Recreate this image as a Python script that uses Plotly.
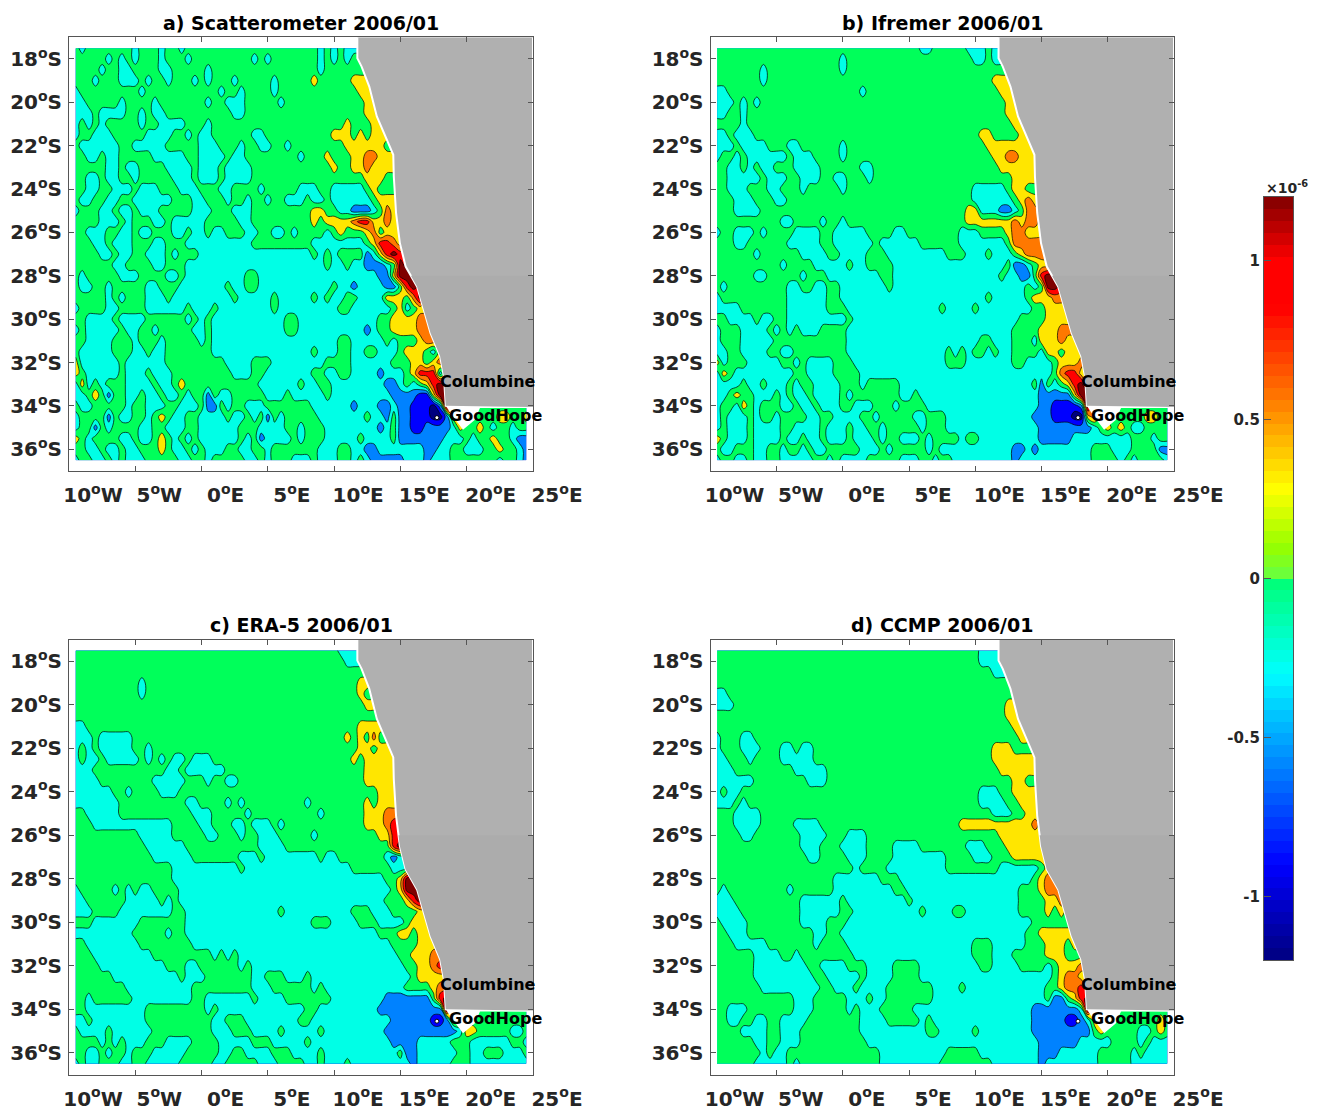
import numpy as np
import plotly.graph_objects as go

LON = [-9.5 + 0.5 * i for i in range(69)]
LAT = [-17.5 - 0.5 * i for i in range(39)]

# class letters: value of each class
CLASS_VALUE = {"D": -1.2, "B": -0.9, "b": -0.6, "c": -0.3, ".": 0.0, "y": 0.3, "o": 0.6, "r": 0.9, "R": 1.2}

# each panel: open-ocean part (columns from 9.5W) and near-coast part (columns from 10.5E)
SCAT_OPEN = [
 ".c.......c...c..c....................c.c",
 ".....c.c.c...c...c.........c.c.......c.c",
 "....c..cc....cc.....c................c..",
 "...c...ccc.c..c...c.c...c.....c.....y...",
 "c.........c...........c..c....c.........",
 "cc.....c....c.......c..ccc.....c........",
 "ccc.cccc..c.cc..........cc..............",
 "c.c.c.....c..cccc...c...................",
 "c..ccc.....cccc..c.cc......cc..........y",
 ".cccccc..ccccc.....ccc...c..cc..c.......",
 "..cc.cc.....ccccc..cccc.cc........c...y.",
 ".....cc.cc....cccc.ccc.cccc............y",
 "..cc.cc..c.....ccc.ccc.cccc.............",
 "..cc..ccc.ccc...ccc...cc....c.....ccc..c",
 ".cc..cc..cccccc...cc...c..c..c..ccc.cc.c",
 "c...cc.cc.ccc.....ccc...ccc.........yy..",
 "....ccc.c...cc.ccccc.....cc.........y.yy",
 "..ccc..cc.cc...cc.cc.cc...cc..cc.c....c.",
 "...cc.ccc...cc...cccccccccc.........cccc",
 "....cc.cc..ccc.c...ccccccccccccccccc.c.c",
 "......cc....cc...ccccccccccccccccccccc.c",
 ".c.....ccc....cc.ccccccccc..cccccccccccc",
 ".cc..c.....cc...ccccccc.cc..ccccccccccc.",
 ".....c.c...ccc.ccccccccc.ccccc.ccccc.c.c",
 "c....cc....cccccc.ccc.cccccccc.ccccccccc",
 "..cccc.cccc......c.c.ccccccccccc..cccccc",
 "c.ccccc.cc..c.....cc.ccccccccccc..cccccc",
 "..cccc...c...c.....c.ccccccccccccccccccc",
 ".ccccc...cc.cc.......ccccccccccccccc.ccc",
 "ycccccc.cccccc.........cccc...cccccccc..",
 "y.ccccc.ccc.ccc.........ccc..ccccccc..cc",
 "cyc.c...cccc.cc.y...........cccccc.cc..c",
 "cc.y.b..cc.cc.cc.c..b.cc.....ccc.ccccc.c",
 ".cc.....c..ccc..ccc.bb.c..ccc.......cccc",
 "c....b.cc..c.y.cc..cccc.cc.c.b.c.....ccc",
 "c..b.c....cc..ccc..cccccc...cccc..c...cc",
 "y.c....cc.cc.y.c.c.cccccc.c.bcccc.c...cc",
 "..cc.cc.cc...y.cc.c.ccc..cc..c.......ccc",
 "c..cc.c.ccc.....cc..c.....cc.c...ccc.ccc",
]
SCAT_COAST = [
 ".cc", ".c.", "...", "..yy", "...yy", "....yy", "....yy.", ".y...yy", "yy.y.yy", ".yyyyyy.",
 "..yyooyy", "..yyoyyy", "....yyy.", "cccc.y..", "ccccc.yyy", "ccbbbc.oy", "yyorryyoy", "y...yo.yy",
 "cccc.yrroyy", "....bcyrRr", "c.ccbbbc.Rr", "ccccccbbyRRr", "ccbccccbb.rRr", "c..ccccyyy.oRy",
 "..cccccc.yc.yy", "cccccc..yyyyoo", "ccccbc..yyyyoo", "..ccccc.c...yooy", "..cc..ccc.yyy.cyo",
 "..cccccc...yy.yoo", "..ccccbccc.yrrrcy", "cccccccbbc.c.yrRR", "ccccccccbbbbBByRR.",
 "ccbcccbbcbbBBBDbRR.",
 "cccc.ccb.bbBBBDDbyo.....yy..yo", "ccccccbc.bbBBbbbbcy..y.c..c..oo", "ccc.cccc.bbbbbbbccc.c..y..cbbc",
 "..ccbbcccccccbbcc..ccc..y..cbb", "..c.cbbbbbcccbccc.......c..cbb",
]

IFR_OPEN = [
 "...............................cc.....c",
 "...................c...................c",
 ".......c...........c....................",
 ".......c................................",
 "cc....................c.................",
 "ccc.c.c.................................",
 "cc..c...................................",
 "....c...................................",
 "cc.ccc..................................",
 "ccc.cccc...cc......c....................",
 "c..c.cccccc.ccc....c....................",
 "..cc.c.cc...cccc......cc................",
 "..ccccc.ccc..ccc..cc...c................",
 "..ccc...cc...c.....c...................c",
 "...ccc...cc............................c",
 "...cccc...............................yy",
 "..........cc....c..c..................yy",
 "c..ccc.c....cccc..ccccc....cc........ccc",
 "...cc......ccccc..cccccc.cccccc......ccc",
 "......c......cccc..cccc...ccccccccc...cc",
 "..........c....ccccc.cc....ccccccccccccc",
 "......cc.....c...cccccccc..ccccccccccccc",
 ".c.........cc..cc..ccccccc.ccccccccccccc",
 "c..........cccccc..ccccccccccccccccccccc",
 "cccc.......cccccc...cccccccccccccc.cccc.",
 "..cccc.cc..ccccccccc.ccccccccccccccccccc",
 "c...cccc.c.c.ccc....cccccccccccccccccccc",
 "c...ccccc...........cccccccccccccccccccc",
 "cc..cccc..cc........ccccccccccccccc.c.c.",
 "yc...ccccc..c.cccc...cccccccccccccc...cc",
 "cy.ccccccccc..cccc....cccccccccccccccccc",
 "cccc.cc.ccc.c..cccc...c.....cccccccccccc",
 "cc.y..ccc.c.cc.cccc.c.......cc.ccccccccc",
 "c..cy.c...cc.cc.ccc..ccc...c....cccccccc",
 "c.ccc.c..c....cc..cccc..c.....cc...ccccc",
 "c.ccc.cccc..cccc.ccc.cc..c.....c...ccccc",
 "y.ccc.cccc.cc.cc.ccc.ccc.c..ccc.c....c..",
 ".cc...cc..c..c.cc.....ccc.c.....c.cccccc",
 "c..cc.cc..ccccc..c.cccc.....ccc..c..cccc",
]
IFR_COAST = [
 "c.cc", "c.cc", "...", "..yy", "...yy", "....yy", "....yy", ".....yy", "yy....yy", ".yyyyyyy",
 "..yyooyyy", "...yyyyyy", ".....yyy", "cccc.yy..", "ccccc.yoy", "cccbbc.ooy", "yyyyyoyooy", "....yooyyy",
 "cccc.oooooyy", "c.ccc.yooooyy", "cccc.bbc.yyy", "ccc.ccbb.rRR", "ccccccc.c.RRro", "c.ccccc.yyyoo",
 "cccccccc..yyyy", "cccccc....yyyy", "ccccc....yyyoo", "..ccc...cyyyoy", ".c.cc....cyy.yyy",
 "ccccc..cccc.yyyoy", "ccccccccccc.orry", "cccccccc.b.c.yrRy", "cccccccccbbbbbyRR.",
 "cccccccccbbBBBBbR..",
 "ccccccccbbbBBBDDyo.......yy..oy", "cccccccccbbbbbbbbc.y.y.cc....yy", "cccccccccbbbbbccccccccc...c..cc",
 "cccccbbcbcccccccc...ccc....bbc", "cccccbccccccccccc....c.c....cc",
]

ERA_OPEN = [
 "........................................",
 "........................................",
 "........................................",
 "..........c.............................",
 "..........c.............................",
 "........................................",
 "........................................",
 "cc......................................",
 "ccc.ccccc...............................",
 "c.c.ccccc..c............................",
 "c.cc.ccccc.c.c.cc.ccc...................",
 "ccc...........cc.cccccc.................",
 "cccc........ccccc...c..cc...............",
 "cccccc..c....ccc........................",
 "ccccccc..........cc....c.c.........c....",
 "..ccccc...........ccc.....c..........c..",
 "...cccccccccccc....cc...cc.ccc.c........",
 "..........ccccc.....cc...c..ccc.....c...",
 "...........cccccc...........cccc........",
 "............cccccc.......ccc.cccccccc.cc",
 "...............cccccccccc.cccccccccccccc",
 "...............ccccccccccccccccccccccccc",
 "c.....c.c.cc....cccccccccccccccccccccccc",
 "cc......ccccc.c.cccccccccccccccccccccccc",
 "ccc....cccccccc..cccccccccccccc.cccccccc",
 "...ccccccc.......ccccccccccccccccccc...c",
 "ccccccccc.....c..ccccccccccccccccccccccc",
 "..cccccccc........cccccccccccccccccccccc",
 "...ccccccccc.........c.c.cccccccccccccc",
 "....cccccccccc...cc......c.ccccccccccccc",
 "......cccccccccc.ccc.......cc...ccc.cccc",
 "........cccccccccc.........ccc......c.cc",
 "..c......ccccccccc..ccccccc.cccc.......c",
 "..ccccccccc.........c.ccccccccccccc..ccc",
 "cc.cccccccc..........cc...cccccccc..cccc",
 ".cccc.cccccc.........ccc...cccc.ccccc.cc",
 "....c.c.ccc...cccc....ccccc...ccccc.cccc",
 "..cc.c..c...ccccc.....cc..cccc...cccc.cc",
 "c.cc...cc..ccccc.....cc.....ccc....cc.cc",
]
ERA_COAST = [
 "ccc", ".cc", "...", "...y", "...y.", "....y", "......", "...yyy", ".y.y.o.", "...yy.y",
 "..y.yyyyy", "....yyy", "....yyyy", "......yy", "....y.yyy", "....yyyoo", "....yyyor", "......yyrr",
 "........rR", ".......cbc", "cc......cc", "ccccccc..yRR", "cccccccc.yRRr", "ccccccc...yrR",
 "cc...ccc....yy", "ccc...cccc.yyy", "cccccc...yy.yy", "cccccccc....yyy", "ccccccccc..yyyo",
 "cccccccccc..yyor", "ccccccccccc.yyyy", "cccccccccc....yo", "cccccccbbbbbbb.rR.",
 "ccccccbbbbbbbbbbR..",
 "ccccccccbbbbbbBBbyy..........", "cccccccbbbbbbbbbbbcyy.....cc...", "ccccccccbbbbccccc...cccccc..c",
 "ccccccccc.bbcccccc..cc...ccc...c", "c.cccccccccbccccc...cccccccccc..",
]

CCMP_OPEN = [
 "........................................",
 "........................................",
 "........................................",
 "........................................",
 "cc......................................",
 "ccc.....................................",
 "........................................",
 "........................................",
 "c...cc..................................",
 "c...ccc...cc.cc.........................",
 "cc...c....ccccc.........................",
 "ccc.........ccccc.......................",
 "cccccc........ccc.......................",
 "c.cc....................................",
 "ccc.c...................................",
 "...cccc.................................",
 "...cccc.....cccc.....................yyy",
 "....cc.......cccc...ccc.................",
 ".............ccc...cccc....cccc.......cc",
 "..............cc....ccc....cccccccc....c",
 ".....................c....ccccccccc.....",
 "..................ccccccc...cccccccccccc",
 ".c.........c......ccccccccc..ccccccccccc",
 "ccc..........cccccc.ccccccccc.cccccccccc",
 "cccc.........cccccc..cccccccccc.cccc..cc",
 ".cccc........cccc...cccccccccccccccccccc",
 "..ccc..........cc..ccccccccccccccccccccc",
 "...ccccc.......c....ccccccccccccccccccc.",
 "......cccc..c........cccccccccccccccccc.",
 "......cccccccc..cccc...cccc....ccccccccc",
 "......ccccccccc..ccccc.cccc....ccccccccc",
 ".......ccccccccc..ccc.cccc.......cccc.cc",
 "............ccc.....ccc.cc.......cccccc",
 "..ccc.......ccc.....c.ccc.....cccccccccc",
 "..cc..cc..cccc........cccc.....c.ccccccc",
 "....cccc..ccc.........cccccccccc..ccccc.",
 "......cc..ccc..........cccccccccccccccc",
 ".......c.cc..............cccccccccc.....",
 "......ccccc.c............ccccccccc......",
]
CCMP_COAST = [
 "ccc", "cccc", "..cc", "....", "....", "....y", "....yy", ".....y", "......y", "..yyy...",
 "..yyyyy", "...yyyy", ".....yy..c", "ccc..yy", "cccc..yy", "..ccc..yy", "yyyyyyyyoy", "...yyyyyyy",
 "c...yyyyyy", "cc...yyyyyy", "...cccccc.y", "cccccccc.yoo", "cccccc...yooy", "cccccc....yyoy",
 "cccccc....y.y.y", "cccccccc.......y", "ccccccc..yyyyy", "..ccccc...yyy.y", "..ccc.....yyy...",
 "..cccc....c.yyyo", "ccccccccccc.yooy", "cccccccccc..yoory", "cccccccccc.bb.yrR.",
 "ccccccccbbbbbbbcR..",
 "ccccccccbbbbbBBbcyy........y..", "ccccccccbbbbbbbbb.y.....cc.y.", "cccccccccbbbbbbccccc....c.ccc",
 "cccccccccbbbcccccc.....c.ccc", "..cccccccbcccccccc.....cccccc",
]

PANELS = [("a) Scatterometer 2006/01", SCAT_OPEN, SCAT_COAST, -28),
          ("b) Ifremer 2006/01", IFR_OPEN, IFR_COAST, -28),
          ("c) ERA-5 2006/01", ERA_OPEN, ERA_COAST, -26),
          ("d) CCMP 2006/01", CCMP_OPEN, CCMP_COAST, -26)]

LAND_LON = [11.75, 11.75, 12.07, 12.65, 13.22, 13.8, 14.46, 14.5, 14.67, 14.96, 15.39, 16.26, 16.69, 17.27, 17.99, 18.28, 18.42, 25, 25]
LAND_LAT = [-17, -17.97, -18.35, -19.27, -20.65, -21.5, -22.42, -23.42, -25.1, -26.5, -27.57, -28.5, -29.41, -30.64, -31.7, -32.64, -33.99, -34.05, -17]
NOTCH_LON = [18.42, 18.85, 19.72, 20.6, 21.0, 25, 25]
NOTCH_LAT = [-33.99, -34.4, -35.1, -34.65, -34.1, -34.1, -33.9]
CAPE_LON = [17.75]
CAPE_LAT = [-34.54]

XTICKS = [-10, -5, 0, 5, 10, 15, 20, 25]
XLABELS = ["10<sup>o</sup>W", "5<sup>o</sup>W", "0<sup>o</sup>E", "5<sup>o</sup>E", "10<sup>o</sup>E", "15<sup>o</sup>E", "20<sup>o</sup>E", "25<sup>o</sup>E"]
YTICKS = [-18, -20, -22, -24, -26, -28, -30, -32, -34, -36]
YLABELS = [f"{-v}<sup>o</sup>S" for v in YTICKS]

BAR_TICKS = [-1, -0.5, 0, 0.5, 1]
BAR_LABELS = ["-1", "-0.5", "0", "0.5", "1"]
BAR_EDGES = [-1.2, -0.9, -0.6, -0.42, -0.3, -0.01, 0.0, 0.1, 0.28, 0.55, 0.85, 1.0, 1.2]

W, H = 1321, 1108
FONT = "DejaVu Sans"
DARK = "#262626"
BAND = ["#00007f", "#0000ff", "#0082ff", "#00ffe6", "#00ff5a", "#ffe600", "#ff7800", "#ff0000", "#7f0000"]
BAR_COLORS = ["#00007f", "#0000ff", "#0080ff", "#00c8ff", "#00ffff", "#00ff78", "#64ff46", "#96ff00", "#ffff00", "#ff8000", "#ff0000", "#ff0000", "#7f0000"]
BOXES = [(69, 533, 37.3, 471), (710.5, 1174, 37.3, 471), (69, 533, 639.5, 1074.7), (710.5, 1174, 639.5, 1074.7)]


def decode(open_rows, coast_rows):
    out = []
    for left, near in zip(open_rows, coast_rows):
        row = left.ljust(40, left[-1])[:40] + near
        row = row + row[-1] * (len(LON) - len(row))
        out.append([CLASS_VALUE[ch] for ch in row[:len(LON)]])
    return out


stepped = []
for i, col in enumerate(BAND):
    stepped += [[i / 9, col], [(i + 1) / 9, col]]

fig = go.Figure()
layout = {}
for i, ((title, left, near, split), (x0, x1, y0, y1)) in enumerate(zip(PANELS, BOXES), start=1):
    xa, ya = f"x{i}", f"y{i}"
    fig.add_trace(go.Contour(x=LON, y=LAT, z=decode(left, near), xaxis=xa, yaxis=ya, showscale=False,
                             zauto=False, zmin=-1.35, zmax=1.35, colorscale=stepped,
                             contours=dict(start=-1.05, end=1.05, size=0.3, coloring="fill"),
                             line=dict(color="black", width=0.7), hoverinfo="skip"))
    fig.add_trace(go.Scatter(x=NOTCH_LON, y=NOTCH_LAT, mode="lines", fill="toself", fillcolor="white",
                             line=dict(color="white", width=0), xaxis=xa, yaxis=ya, showlegend=False, hoverinfo="skip"))
    fig.add_trace(go.Scatter(x=LAND_LON, y=LAND_LAT, mode="lines", fill="toself", fillcolor="#b0b0b0",
                             line=dict(color="white", width=2), xaxis=xa, yaxis=ya, showlegend=False, hoverinfo="skip"))
    # slightly darker southern land patch
    cut = np.interp(split, LAND_LAT[:-1][::-1], LAND_LON[:-1][::-1])
    south = [k for k in range(len(LAND_LAT) - 1) if LAND_LAT[k] < split]
    fig.add_trace(go.Scatter(x=[cut] + [LAND_LON[k] for k in south] + [25], y=[split] + [LAND_LAT[k] for k in south] + [split],
                             mode="lines", fill="toself", fillcolor="#acacac", line=dict(width=0),
                             xaxis=xa, yaxis=ya, showlegend=False, hoverinfo="skip"))
    fig.add_trace(go.Scatter(x=CAPE_LON, y=CAPE_LAT, mode="markers", marker=dict(size=4, color="white", line=dict(color="black", width=1)),
                             xaxis=xa, yaxis=ya, showlegend=False, hoverinfo="skip"))
    common = dict(showgrid=False, zeroline=False, ticks="inside", ticklen=5, mirror="allticks", showline=True,
                  linecolor="#555555", linewidth=1, tickcolor="#555555", automargin=False,
                  tickfont=dict(family=FONT, size=20, color=DARK, weight=700))
    layout[f"xaxis{i}"] = dict(domain=[x0 / W, x1 / W], range=[-10, 25], tickvals=XTICKS, ticktext=XLABELS,
                               ticklabelshift=24, ticklabelstandoff=6, anchor=ya, **common)
    layout[f"yaxis{i}"] = dict(domain=[1 - y1 / H, 1 - y0 / H], range=[-37, -17], tickvals=YTICKS, ticktext=YLABELS,
                               anchor=xa, ticklabelstandoff=2, **common)

bar_vals = np.linspace(-1.2 + 0.01875, 1.2 - 0.01875, 64)
rng = 2.4
bar_scale = [[(e + 1.2) / rng, c] for e, c in zip(BAR_EDGES, BAR_COLORS)]
fig.add_trace(go.Heatmap(x=[0, 1], y=bar_vals, z=[[v, v] for v in bar_vals], xaxis="x5", yaxis="y5", showscale=False,
                         zmin=-1.2, zmax=1.2, colorscale=bar_scale, hoverinfo="skip"))
layout["xaxis5"] = dict(domain=[1264 / W, 1293 / W], range=[0, 1], showticklabels=False, ticks="", showline=True,
                        mirror=True, linecolor="#555555", showgrid=False, zeroline=False, anchor="y5")
layout["yaxis5"] = dict(domain=[1 - 960 / H, 1 - 197 / H], range=[-1.2, 1.2], tickvals=BAR_TICKS, ticktext=BAR_LABELS,
                        ticks="inside", ticklen=7, tickcolor="#555555", showline=True, mirror=True, linecolor="#555555",
                        showgrid=False, zeroline=False, anchor="x5",
                        tickfont=dict(family=FONT, size=15, color=DARK, weight=700))

ann = []
for i, ((title, _, _, _), (x0, x1, y0, y1)) in enumerate(zip(PANELS, BOXES), start=1):
    ann.append(dict(text=f"<b>{title}</b>", x=(x0 + x1) / 2 / W, y=1 - (y0 - 14.5) / H, xref="paper", yref="paper",
                    xanchor="center", yanchor="middle", showarrow=False, font=dict(family=FONT, size=19, color="black")))
    ann.append(dict(text="<b>Columbine</b>", x=17.85, y=-32.85, xref=f"x{i}", yref=f"y{i}", xanchor="left", yanchor="middle",
                    showarrow=False, font=dict(family=FONT, size=16, color="black")))
    ann.append(dict(text="<b>GoodHope</b>", x=18.55, y=-34.42, xref=f"x{i}", yref=f"y{i}", xanchor="left", yanchor="middle",
                    showarrow=False, font=dict(family=FONT, size=16, color="black")))
ann.append(dict(text="<b>×10<sup>-6</sup></b>", x=1264 / W, y=1 - 187 / H, xref="paper", yref="paper", xanchor="left",
                yanchor="middle", showarrow=False, font=dict(family=FONT, size=14, color=DARK)))
fig.update_layout(width=W, height=H, margin=dict(l=0, r=0, t=0, b=0), plot_bgcolor="white", paper_bgcolor="white",
                  showlegend=False, annotations=ann, **layout)
fig.write_html("out.html", config={"displayModeBar": False}, post_script="document.body.style.margin='0';")
